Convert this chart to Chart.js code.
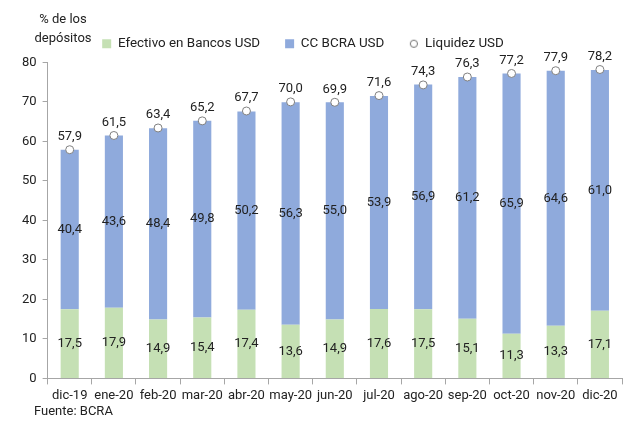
<!DOCTYPE html>
<html>
<head>
<meta charset="utf-8">
<script src="https://cdn.jsdelivr.net/npm/chart.js@4/dist/chart.umd.min.js"></script>
<style>
  html, body { margin: 0; padding: 0; background: #fff; }
  #wrap { position: relative; width: 627px; height: 423px; font-family: Roboto, sans-serif; }
  #titulo { position: absolute; left: 28px; top: 9px; width: 70px; text-align: center; font-size: 13px; line-height: 19px; color: #222; }
  #fuente { position: absolute; left: 34px; top: 403px; font-size: 13px; color: #222; }
</style>
</head>
<body>
<div id="wrap">
  <canvas id="grafico" width="627" height="423"></canvas>
  <div id="titulo">% de los depósitos</div>
  <div id="fuente">Fuente: BCRA</div>
</div>
<script>
// Datos
const meses = ['dic-19', 'ene-20', 'feb-20', 'mar-20', 'abr-20', 'may-20', 'jun-20', 'jul-20', 'ago-20', 'sep-20', 'oct-20', 'nov-20', 'dic-20'];
const efectivo = [17.5, 17.9, 14.9, 15.4, 17.4, 13.6, 14.9, 17.6, 17.5, 15.1, 11.3, 13.3, 17.1];
const ccBcra = [40.4, 43.6, 48.4, 49.8, 50.2, 56.3, 55.0, 53.9, 56.9, 61.2, 65.9, 64.6, 61.0];
const liquidez = [57.9, 61.5, 63.4, 65.2, 67.7, 70.0, 69.9, 71.6, 74.3, 76.3, 77.2, 77.9, 78.2];
const ticksY = [0, 10, 20, 30, 40, 50, 60, 70, 80];

Chart.defaults.font.family = "Roboto, sans-serif";
Chart.defaults.font.size = 13;
Chart.defaults.color = '#222';

const fmt = v => v.toFixed(1).replace('.', ',');

// circulito chico para la leyenda de Liquidez
const circuloLeyenda = document.createElement('canvas');
circuloLeyenda.width = 10;
circuloLeyenda.height = 10;
(() => {
    const c = circuloLeyenda.getContext('2d');
    c.beginPath();
    c.arc(5, 5, 3.6, 0, Math.PI * 2);
    c.fillStyle = '#fff';
    c.fill();
    c.strokeStyle = '#707070';
    c.lineWidth = 1;
    c.stroke();
})();

// etiquetas de valores sobre las barras y puntos
const etiquetas = {
    id: 'etiquetas',
    afterDatasetsDraw(chart) {
        const ctx = chart.ctx;
        ctx.save();
        ctx.font = '13px Roboto, sans-serif';
        ctx.fillStyle = '#222';
        ctx.textAlign = 'center';
        ctx.textBaseline = 'middle';
        chart.data.datasets.forEach((ds, i) => {
            const meta = chart.getDatasetMeta(i);
            meta.data.forEach((el, j) => {
                if (ds.type === 'line') {
                    ctx.fillText(fmt(ds.data[j]), el.x, el.y - 13);
                } else {
                    ctx.fillText(fmt(ds.data[j]), el.x, (el.y + el.base) / 2);
                }
            });
        });
        ctx.restore();
    }
};

// un poco mas de aire bajo la leyenda y correrla a la izquierda
const ajusteLeyenda = {
    id: 'ajusteLeyenda',
    beforeInit(chart) {
        const lg = chart.legend;
        const fitOrig = lg.fit.bind(lg);
        lg.fit = function () { fitOrig(); this.height += 2; };
    },
    afterLayout(chart) {
        chart.legend.left -= 16;
        chart.legend.right -= 16;
    }
};

new Chart(document.getElementById('grafico'), {
    type: 'bar',
    data: {
        labels: meses,
        datasets: [
            {
                label: 'Efectivo en Bancos USD',
                data: efectivo,
                backgroundColor: '#c5e0b4',
                barPercentage: 0.41,
                categoryPercentage: 1,
                pointStyle: 'rect',
                order: 2
            },
            {
                label: 'CC BCRA USD',
                data: ccBcra,
                backgroundColor: '#8faadc',
                barPercentage: 0.41,
                categoryPercentage: 1,
                pointStyle: 'rect',
                order: 2
            },
            {
                type: 'line',
                label: 'Liquidez USD',
                data: liquidez,
                stack: 'liq',
                showLine: false,
                pointRadius: 4,
                pointBackgroundColor: '#fff',
                pointBorderColor: '#808080',
                pointBorderWidth: 1,
                backgroundColor: '#fff',
                borderColor: '#808080',
                borderWidth: 1,
                pointStyle: 'circle',
                order: 0
            }
        ]
    },
    options: {
        responsive: false,
        animation: false,
        layout: { padding: { left: 16, right: 5, top: 12, bottom: 15 } },
        plugins: {
            legend: {
                position: 'top',
                labels: {
                    usePointStyle: true,
                    boxWidth: 9,
                    boxHeight: 9,
                    padding: 25,
                    color: '#222',
                    font: { size: 13.4 },
                    sort: (a, b) => a.datasetIndex - b.datasetIndex,
                    generateLabels: chart => {
                        const items = Chart.defaults.plugins.legend.labels.generateLabels(chart);
                        items.forEach(it => {
                            if (it.datasetIndex === 2) it.pointStyle = circuloLeyenda;
                        });
                        return items;
                    }
                }
            },
            tooltip: { enabled: false }
        },
        scales: {
            x: {
                stacked: true,
                grid: { display: true, drawOnChartArea: false, tickLength: 6, color: '#a6a6a6' },
                border: { color: '#a6a6a6' },
                ticks: { color: '#222', padding: 4, maxRotation: 0, autoSkip: false, font: { size: 13 } }
            },
            y: {
                stacked: true,
                min: 0,
                max: 80,
                afterBuildTicks: axis => { axis.ticks = ticksY.map(v => ({ value: v })); },
                grid: { display: true, drawOnChartArea: false, tickLength: 5, color: '#a6a6a6' },
                border: { color: '#a6a6a6' },
                ticks: { color: '#222', padding: 6, font: { size: 13 } }
            }
        }
    },
    plugins: [etiquetas, ajusteLeyenda]
});
</script>
</body>
</html>
